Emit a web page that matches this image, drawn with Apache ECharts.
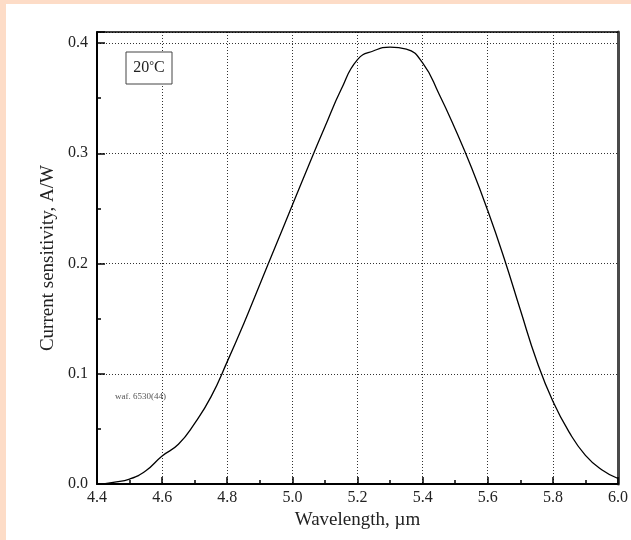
<!DOCTYPE html>
<html>
<head>
<meta charset="utf-8">
<script src="https://cdn.jsdelivr.net/npm/echarts@6/dist/echarts.min.js"></script>
<style>
  body { margin: 0; background: #fddcc7; }
  #frame { position: absolute; left: 6px; top: 4px; right: 0; bottom: 0; background: #ffffff; }
  #chart { position: absolute; left: 0; top: 0; width: 631px; height: 540px; }
</style>
</head>
<body>
<div id="frame"></div>
<div id="chart"></div>
<script>
// spectral response
var wavelength = [4.42, 4.45, 4.5, 4.55, 4.6, 4.65, 4.7, 4.75, 4.8, 4.85, 4.9, 4.95, 5.0, 5.05, 5.1, 5.15, 5.2, 5.25, 5.3, 5.35, 5.4, 5.45, 5.5, 5.55, 5.6, 5.65, 5.7, 5.75, 5.8, 5.85, 5.9, 5.95, 6.0];
var sensitivity = [0.0, 0.0015, 0.0045, 0.012, 0.0254, 0.036, 0.055, 0.079, 0.111, 0.145, 0.181, 0.217, 0.253, 0.289, 0.324, 0.358, 0.385, 0.393, 0.3962, 0.3945, 0.382, 0.354, 0.322, 0.287, 0.248, 0.205, 0.158, 0.112, 0.075, 0.047, 0.026, 0.013, 0.005];
var xTicks = [4.4, 4.6, 4.8, 5.0, 5.2, 5.4, 5.6, 5.8, 6.0];
var yTicks = [0.0, 0.1, 0.2, 0.3, 0.4];

var font = "'Liberation Serif', 'DejaVu Serif', serif";
var points = [];
for (var i = 0; i < wavelength.length; i++) {
  points.push([wavelength[i], sensitivity[i]]);
}

var chart = echarts.init(document.getElementById('chart'));
var options = {
  backgroundColor: 'transparent',
  animation: false,
  grid: { left: 97, right: 12, top: 32, bottom: 56 },
  xAxis: [{
    type: 'value',
    min: xTicks[0],
    max: xTicks[xTicks.length - 1],
    interval: 0.2,
    name: 'Wavelength, µm',
    nameLocation: 'middle',
    nameGap: 27,
    nameTextStyle: { fontFamily: font, fontSize: 19, color: '#222' },
    axisLine: { show: true, onZero: false, lineStyle: { color: '#000', width: 2 } },
    axisTick: { show: true, inside: true, length: 7, lineStyle: { color: '#000', width: 1.5 } },
    minorTick: { show: true, splitNumber: 2, length: 4, lineStyle: { color: '#000', width: 1.5 } },
    axisLabel: {
      margin: 6, fontFamily: font, fontSize: 16, color: '#222',
      formatter: function (v) { return v.toFixed(1); }
    },
    splitLine: { show: true, lineStyle: { color: '#333', type: [1, 2], width: 1 } }
  }, {
    type: 'value',
    position: 'top',
    min: xTicks[0],
    max: xTicks[xTicks.length - 1],
    axisLine: { show: true, onZero: false, lineStyle: { color: '#000', width: 1.5 } },
    axisTick: { show: false },
    axisLabel: { show: false },
    splitLine: { show: false }
  }],
  yAxis: [{
    type: 'value',
    min: yTicks[0],
    max: 0.41,
    interval: 0.1,
    name: 'Current sensitivity, A/W',
    nameLocation: 'middle',
    nameGap: 39,
    nameTextStyle: { fontFamily: font, fontSize: 19, color: '#222' },
    axisLine: { show: true, onZero: false, lineStyle: { color: '#000', width: 2 } },
    axisTick: { show: true, inside: true, length: 8, lineStyle: { color: '#000', width: 1.5 } },
    minorTick: { show: true, splitNumber: 2, length: 4, lineStyle: { color: '#000', width: 1.5 } },
    axisLabel: {
      margin: 9, fontFamily: font, fontSize: 16, color: '#222', showMaxLabel: false,
      formatter: function (v) { return v.toFixed(1); }
    },
    splitLine: { show: true, lineStyle: { color: '#333', type: [1, 2], width: 1 } }
  }, {
    type: 'value',
    position: 'right',
    min: yTicks[0],
    max: 0.41,
    axisLine: { show: true, onZero: false, lineStyle: { color: '#4a4a4a', width: 3 } },
    axisTick: { show: false },
    axisLabel: { show: false },
    splitLine: { show: false }
  }],
  graphic: [{
    type: 'rect',
    shape: { x: 126, y: 52, width: 46, height: 32 },
    style: { fill: '#fff', stroke: '#444', lineWidth: 1 },
    z: 100
  }, {
    type: 'text',
    x: 149, y: 68,
    style: {
      text: '{n|20}{d|°}{n|C}',
      align: 'center', verticalAlign: 'middle',
      rich: {
        n: { fontFamily: font, fontSize: 16, fill: '#222' },
        d: { fontFamily: font, fontSize: 12, fill: '#222', verticalAlign: 'top', padding: [0, 0, 4, 0] }
      }
    },
    z: 101
  }, {
    type: 'text',
    x: 115, y: 397,
    style: {
      text: 'waf. 6530(44)',
      fontFamily: font, fontSize: 9, fill: '#555',
      verticalAlign: 'middle'
    },
    z: 101
  }],
  series: [{
    type: 'line',
    data: points,
    smooth: 0.5,
    showSymbol: false,
    lineStyle: { color: '#000', width: 1.3 }
  }]
};
chart.setOption(options);
</script>
</body>
</html>
